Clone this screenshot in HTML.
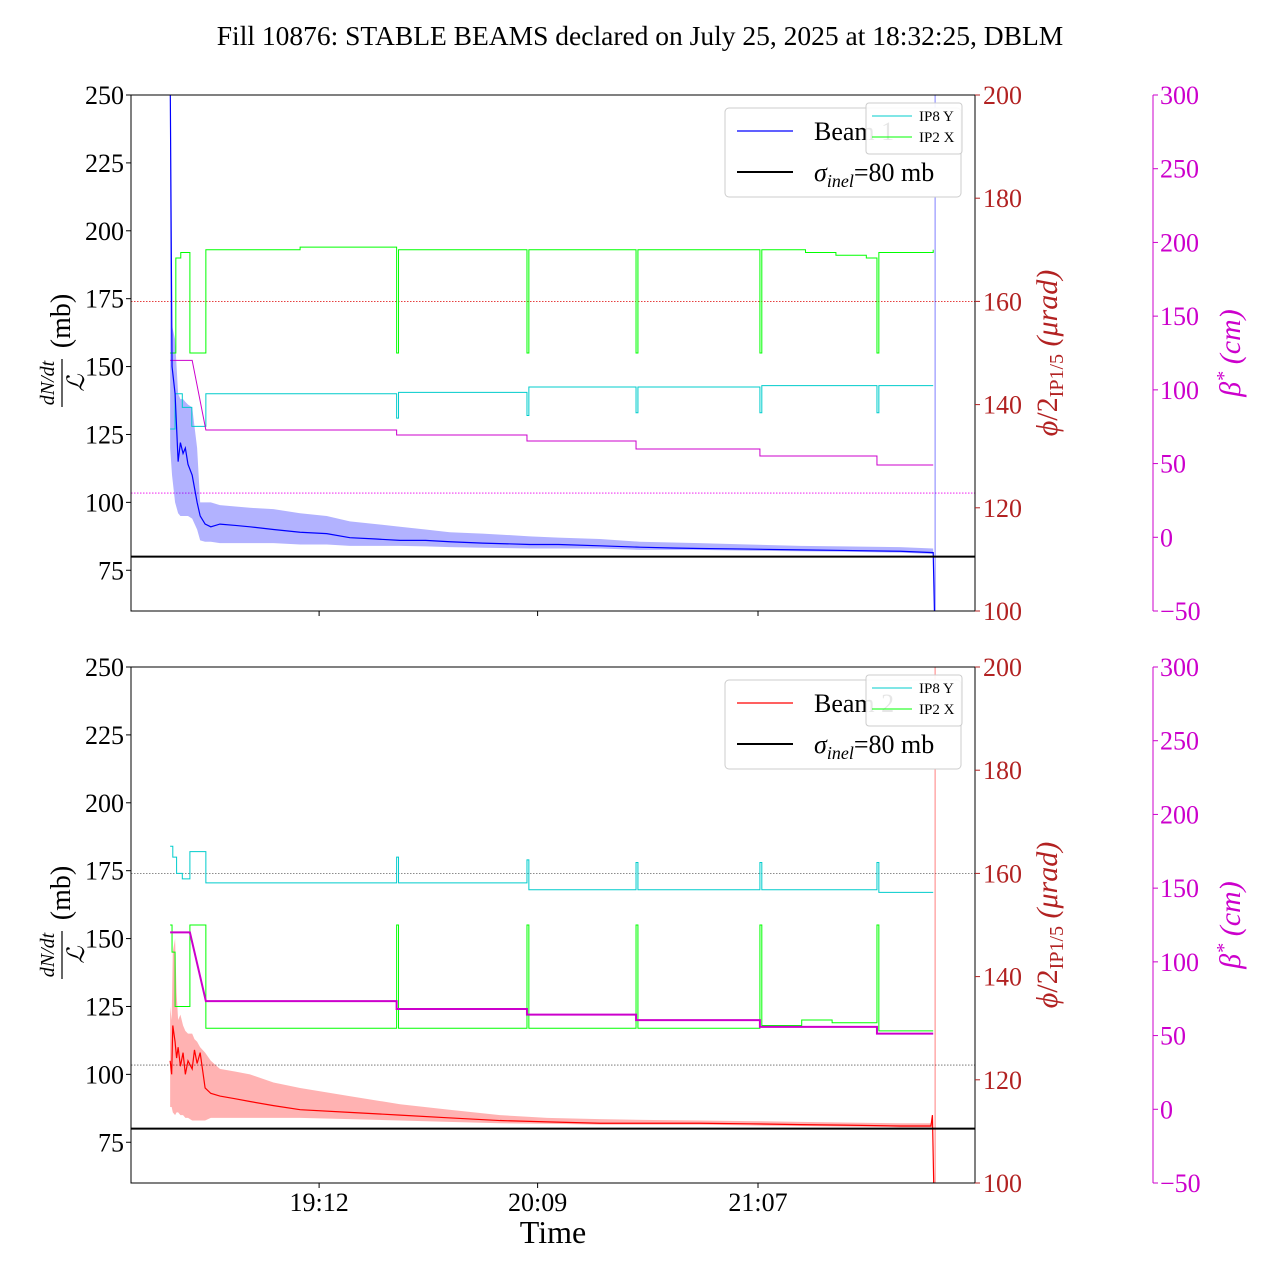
<!DOCTYPE html>
<html><head><meta charset="utf-8"><style>
body{margin:0;background:#fff}
svg{display:block;font-family:"Liberation Serif","DejaVu Serif",serif}
</style></head><body>
<svg id="c" width="1280" height="1280" viewBox="0 0 1280 1280"></svg>
<script>
// ---- data (time in minutes after 18:00) ----
const tickMinutes=[72,129.5,187.5];
const tickLabels=["19:12","20:09","21:07"];
const leftTicks=[75,100,125,150,175,200,225,250];
const phiTicks=[100,120,140,160,180,200];
const betaTicks=[-50,0,50,100,150,200,250,300];
// Beam 1
const b1T=[32.8,33.3,34.1,34.9,35.5,36.2,36.8,37.5,38.6,39.9,40.7,42,43.5,45.9,50,53.8,60,67,74,80.1,87,93.3,100,106.4,115,127.5,135,145.9,156.4,165,172.2,185,198.6,210,224.9,233.6];
const b1V=[260,150,140,115,122,118,120,114,110,100,95,92,91,92,91.5,91,90,89,88.5,87,86.5,86,86,85.5,85,84.5,84.5,84,83.5,83.2,83,82.8,82.5,82.3,82,81.5];
const b1Hi=[260,165,160,140,138,138,137,136,135,120,100,100,100,99,98.5,98,97.5,96,95,93,92,91,90,89,88.5,87.5,87,86.5,85.5,85.2,85,84.5,84,83.8,83.5,83];
const b1Lo=[120,110,100,96,95,95,95,95,94,90,86,85.5,85.5,85,85,85,85,84.5,84.5,84,84,84,83.8,83.5,83.3,83,83,83,82.5,82.5,82.5,82.2,82,81.8,81.5,81];
// Beam 2
const b2T=[32.8,33.2,33.5,34.1,34.5,34.9,35.5,36.2,36.8,37.5,38.6,39.2,39.9,40.7,42,43.5,45.9,50,53.8,60,67,80,93.3,106,119.6,132,145.9,160,172.2,185,198.6,210,224.9,233.0,233.4];
const b2V=[105,100,118,112,106,110,103,108,100,105,102,109,104,108,95,93,92,91,90,88.5,87,86,85,84,83,82.5,82,82,82,81.8,81.5,81.3,81,81,85];
const b2Hi=[125,120,145,150,130,120,122,118,116,115,115,113,112,110,108,105,102,101,100,97,95,92,89,87,85,84,83.5,83.2,83,82.8,82.5,82.3,82,82,82];
const b2Lo=[88,88,86,85,86,86,85,85,84,84,83,83,83,83,83,84,84,84,84,84,84,83.5,83,82.5,82,81.8,81.5,81.5,81.5,81.2,81,80.8,80.5,80.5,80.5];
// crossing angles (left-axis units), step series
const g1T=[32.8,34.3,35.6,38.0,42.2,67,92.4,92.9,126.7,127.2,155.4,155.9,188,188.5,200,208,216,218.8,219.3,233.6];
const g1V=[155,190,192,155,193,194,155,193,155,193,155,193,155,193,192,191,190,155,192,193];
const c1T=[32.8,34.1,36,38.5,42.2,92.4,92.9,126.7,127.2,155.4,155.9,188,188.5,218.8,219.3,233.6];
const c1V=[127,140,135,128,140,131,140.5,132,142.5,133,142.5,133,143,133,143,143];
const g2T=[32.8,33.3,34.1,38.0,42.2,92.4,92.9,126.7,127.2,155.4,155.9,188,188.5,199,207,218.8,219.3,233.6];
const g2V=[155,145,125,155,117,155,117,155,117,155,117,155,118,120,119,155,116,116];
const c2T=[32.8,33.5,34.5,36,38.0,42.2,92.4,92.9,126.7,127.2,155.4,155.9,188,188.5,218.8,219.3,233.6];
const c2V=[184,180,174,172,182,170.5,180,170.5,179,168,178,168,178,168,178,167,167];
// beta* (cm): first segment ramps, then steps
const m1T=[32.8,38.6,42.2,92.4,126.7,155.4,188,218.8,233.6];
const m1V=[120,120,72.8,69.4,65.3,59.9,55.1,49.0,49.0];
const m2T=[32.8,38.0,42.2,92.4,126.7,155.4,188,218.8,233.6];
const m2V=[120,120,73.4,68,64.2,60.5,55.9,51.3,51.3];

const svg=document.getElementById('c');
const NS='http://www.w3.org/2000/svg';
function el(tag,attrs,parent,text){const e=document.createElementNS(NS,tag);for(const k in attrs)e.setAttribute(k,attrs[k]);if(text!==undefined)e.textContent=text;(parent||svg).appendChild(e);return e;}
const X0=131,X1=975,T0=22.5,T1=244.6;
const xs=t=>X0+(t-T0)/(T1-T0)*(X1-X0);
function mkPanel(top,beam){
 const bot=top+516;
 const yl=v=>bot-(v-60)/190*516;
 const yp=v=>bot-(v-100)/100*516;
 const yb=v=>bot-(v+50)/350*516;
 const g=el('g',{});
 
 
 const defs=el('clipPath',{id:'clip'+beam},g);el('rect',{x:X0,y:top,width:X1-X0,height:516},defs);
 const pg=el('g',{'clip-path':'url(#clip'+beam+')'},g);
 const col=beam==1?'#0000ff':'#ff0000';
 if(beam==1){const a=el('line',{x1:X0,x2:X1,y1:yp(160),y2:yp(160),stroke:'#d00',"stroke-width":0.8,"stroke-dasharray":"1.5,1.5"},pg);
  const b=el('line',{x1:X0,x2:X1,y1:yb(30),y2:yb(30),stroke:'#e0e',"stroke-width":0.8,"stroke-dasharray":"1.5,1.5"},pg);}
 else{[yp(160),yb(30)].forEach(y=>{const a=el('line',{x1:X0,x2:X1,y1:y,y2:y,stroke:'#666',"stroke-width":0.8,"stroke-dasharray":"1.5,1.5"},pg);});}
 const T=beam==1?b1T:b2T,V=beam==1?b1V:b2V,H=beam==1?b1Hi:b2Hi,L=beam==1?b1Lo:b2Lo;
 let d='M'+T.map((t,i)=>xs(t)+','+yl(H[i])).join('L');
 for(let i=T.length-1;i>=0;i--)d+='L'+xs(T[i])+','+yl(L[i]);
 const band=el('path',{d:d+'Z',fill:col,'fill-opacity':0.3,stroke:'none'},pg);
 
 const step=(TT,VV,sc)=>{let s='';for(let i=0;i<TT.length;i++){s+=(i?'L'+xs(TT[i])+','+sc(VV[i-1])+'L':'M')+xs(TT[i])+','+sc(VV[i]);}return s;};
 const gT=beam==1?g1T:g2T,gV=beam==1?g1V:g2V,cT=beam==1?c1T:c2T,cV=beam==1?c1V:c2V;
 const gl=el('path',{d:step(gT,gV,yl),fill:'none',stroke:'#00ff00','stroke-width':1},pg);
 const cl=el('path',{d:step(cT,cV,yl),fill:'none',stroke:'#00cccc','stroke-width':1},pg);
 const mT=beam==1?m1T:m2T,mV=beam==1?m1V:m2V;
 let md='M'+xs(mT[0])+','+yb(mV[0])+'L'+xs(mT[1])+','+yb(mV[1])+'L'+xs(mT[2])+','+yb(mV[2]);
 for(let i=3;i<mT.length;i++)md+='L'+xs(mT[i])+','+yb(mV[i-1])+'L'+xs(mT[i])+','+yb(mV[i]);
 const ml=el('path',{d:md,fill:'none',stroke:'#cc00cc','stroke-width':beam==1?1:2},pg);
 const ln=el('path',{d:'M'+T.map((t,i)=>xs(t)+','+yl(V[i])).join('L')+'L'+xs(T[T.length-1]+0.4)+','+yl(55),fill:'none',stroke:col,'stroke-width':1.2},pg);
 
 const vl=el('line',{x1:xs(234.1),x2:xs(234.1),y1:top,y2:bot,stroke:col,'stroke-opacity':0.5,'stroke-width':1},pg);
 const sl=el('line',{x1:X0,x2:X1,y1:yl(80),y2:yl(80),stroke:'#000','stroke-width':2},pg);
 const fr=el('rect',{x:X0,y:top,width:X1-X0,height:516,fill:'none',stroke:'#000','stroke-width':1},g);
 leftTicks.forEach(v=>{el('line',{x1:X0-5,x2:X0,y1:yl(v),y2:yl(v),stroke:'#000'},g);const t=el('text',{x:X0-7,y:yl(v)+9,'text-anchor':'end','font-size':26},g,String(v));});
 phiTicks.forEach(v=>{el('line',{x1:X1,x2:X1+5,y1:yp(v),y2:yp(v),stroke:'#b22222'},g);const t=el('text',{x:X1+8,y:yp(v)+9,'font-size':26,fill:'#b22222'},g,String(v));});
 el('line',{x1:1153,x2:1153,y1:top,y2:bot,stroke:'#cc00cc'},g);
 betaTicks.forEach(v=>{el('line',{x1:1153,x2:1158,y1:yb(v),y2:yb(v),stroke:'#cc00cc'},g);const t=el('text',{x:1160,y:yb(v)+9,'font-size':26,fill:'#cc00cc'},g,(v<0?'\u2212'+(-v):String(v)));});
 tickMinutes.forEach((m,i)=>{el('line',{x1:xs(m),x2:xs(m),y1:bot,y2:bot+5,stroke:'#000'},g);if(beam==2){const t=el('text',{x:xs(m),y:bot+28,'text-anchor':'middle','font-size':26},g,tickLabels[i]);}});
 const mid=top+258;
 const yg=el('g',{transform:`translate(62,${mid}) rotate(-90)`},g);
 el('text',{x:-30,y:-8,'text-anchor':'middle','font-size':20,'font-style':'italic'},yg,'dN/dt');
 el('line',{x1:-54,x2:-6,y1:0,y2:0,stroke:'#000','stroke-width':1.2},yg);
 el('text',{x:-30,y:22,'text-anchor':'middle','font-size':24,'font-style':'italic'},yg,'\u2112');
 el('text',{x:32,y:8,'text-anchor':'middle','font-size':28},yg,'(mb)');
 const pl=el('text',{transform:`translate(1057,${mid}) rotate(-90)`,'text-anchor':'middle','font-size':30,fill:'#b22222'},g);
 el('tspan',{'font-style':'italic'},pl,'\u03d5');el('tspan',{},pl,'/2');el('tspan',{'font-size':20,dy:6},pl,'IP1/5');el('tspan',{dy:-6,'font-style':'italic'},pl,' (\u03bcrad)');
 const bl=el('text',{transform:`translate(1240,${mid}) rotate(-90)`,'text-anchor':'middle','font-size':30,fill:'#cc00cc','font-style':'italic'},g);
 el('tspan',{},bl,'\u03b2');el('tspan',{'font-size':20,dy:-10},bl,'*');el('tspan',{dy:10},bl,' (cm)');
 const lg=el('g',{},g);
 el('rect',{x:725,y:top+13,width:236,height:89,rx:4,fill:'#fff',stroke:'#ccc'},lg);
 el('line',{x1:737,x2:793,y1:top+36,y2:top+36,stroke:col,'stroke-width':1.2},lg);
 el('text',{x:814,y:top+45,'font-size':26},lg,'Beam '+beam);
 el('line',{x1:737,x2:793,y1:top+77,y2:top+77,stroke:'#000','stroke-width':2},lg);
 const st=el('text',{x:814,y:top+86,'font-size':26},lg);el('tspan',{'font-style':'italic'},st,'\u03c3');el('tspan',{'font-size':18,dy:6,'font-style':'italic'},st,'inel');el('tspan',{dy:-6},st,'=80 mb');
 const lg2=el('g',{},g);
 el('rect',{x:866,y:top+8,width:96,height:51,rx:3,fill:'#fff','fill-opacity':0.9,stroke:'#ccc'},lg2);
 el('line',{x1:872,x2:912,y1:top+21,y2:top+21,stroke:'#00cccc'},lg2);
 el('text',{x:919,y:top+26,'font-size':15},lg2,'IP8 Y');
 el('line',{x1:872,x2:912,y1:top+42,y2:top+42,stroke:'#00ff00'},lg2);
 el('text',{x:919,y:top+47,'font-size':15},lg2,'IP2 X');
}
const ti=el('text',{x:640,y:45,'text-anchor':'middle','font-size':27.5});ti.textContent='Fill 10876: STABLE BEAMS declared on July 25, 2025 at 18:32:25, DBLM';

mkPanel(95,1);mkPanel(667,2);
const xt=el('text',{x:553,y:1243,'text-anchor':'middle','font-size':32},svg,'Time');

</script>
</body></html>
